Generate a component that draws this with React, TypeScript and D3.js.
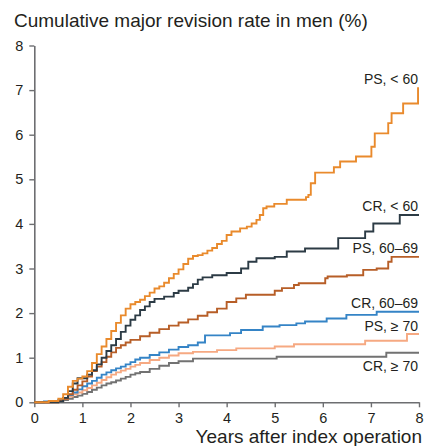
import { useEffect, useRef } from 'react'
import * as d3 from 'd3'

type Pt = [number, number]

// Kaplan–Meier style step curves, [years, cumulative %]
const psUnder60: Pt[] = [
  [0, 0], [0.3, 0.03], [0.5, 0.08], [0.6, 0.18], [0.7, 0.35], [0.8, 0.48], [0.9, 0.53], [1.0, 0.58],
  [1.1, 0.7], [1.2, 0.88], [1.3, 1.08], [1.4, 1.25], [1.5, 1.42], [1.6, 1.6], [1.7, 1.78], [1.8, 1.95],
  [1.9, 2.1], [2.0, 2.2], [2.1, 2.25], [2.2, 2.3], [2.3, 2.38], [2.4, 2.46], [2.5, 2.55], [2.6, 2.6],
  [2.7, 2.68], [2.8, 2.78], [2.9, 2.88], [3.0, 2.98], [3.1, 3.1], [3.2, 3.22], [3.3, 3.28], [3.4, 3.3],
  [3.5, 3.34], [3.6, 3.4], [3.7, 3.46], [3.8, 3.55], [3.9, 3.62], [4.0, 3.75], [4.1, 3.83], [4.28, 3.9],
  [4.42, 3.94], [4.52, 4.01], [4.62, 4.09], [4.69, 4.2], [4.76, 4.35], [4.83, 4.39], [4.99, 4.45],
  [5.25, 4.54], [5.65, 4.6], [5.7, 4.65], [5.75, 4.91], [5.84, 5.15], [6.23, 5.27], [6.36, 5.4],
  [6.69, 5.51], [7.01, 5.73], [7.08, 6.03], [7.36, 6.26], [7.43, 6.48], [7.67, 6.7], [7.98, 7.04], [8, 7.04],
]

const crUnder60: Pt[] = [
  [0, 0], [0.5, 0.02], [0.6, 0.1], [0.7, 0.25], [0.8, 0.42], [0.9, 0.54], [1.1, 0.62], [1.2, 0.72],
  [1.3, 0.85], [1.4, 1.0], [1.5, 1.15], [1.6, 1.28], [1.7, 1.42], [1.8, 1.58], [1.9, 1.72], [2.0, 1.85],
  [2.1, 1.95], [2.2, 2.07], [2.3, 2.15], [2.4, 2.25], [2.5, 2.32], [2.7, 2.37], [2.9, 2.45], [3.0, 2.5],
  [3.2, 2.57], [3.3, 2.65], [3.4, 2.75], [3.5, 2.8], [3.7, 2.85], [4.0, 2.9], [4.3, 3.0], [4.45, 3.15],
  [4.62, 3.23], [5.0, 3.26], [5.25, 3.38], [5.63, 3.45], [6.32, 3.68], [6.88, 3.83], [7.05, 4.01],
  [7.6, 4.2], [8, 4.2],
]

const ps60to69: Pt[] = [
  [0, 0], [0.5, 0.03], [0.6, 0.08], [0.7, 0.18], [0.8, 0.28], [0.9, 0.38], [1.0, 0.47], [1.1, 0.58],
  [1.2, 0.7], [1.3, 0.8], [1.4, 0.9], [1.5, 1.02], [1.6, 1.12], [1.7, 1.22], [1.8, 1.28], [1.9, 1.34],
  [2.0, 1.4], [2.2, 1.48], [2.4, 1.56], [2.6, 1.64], [2.8, 1.72], [3.0, 1.79], [3.2, 1.86], [3.4, 1.94],
  [3.6, 2.02], [3.8, 2.1], [4.0, 2.25], [4.2, 2.33], [4.4, 2.41], [5.0, 2.5], [5.15, 2.56], [5.4, 2.63],
  [5.5, 2.67], [6.05, 2.78], [6.1, 2.82], [6.5, 2.85], [6.84, 2.97], [7.12, 3.0], [7.36, 3.15],
  [7.43, 3.26], [8, 3.26],
]

const cr60to69: Pt[] = [
  [0, 0], [0.2, 0.02], [0.5, 0.05], [0.6, 0.1], [0.7, 0.16], [0.8, 0.22], [0.9, 0.29], [1.0, 0.36],
  [1.1, 0.42], [1.2, 0.48], [1.3, 0.55], [1.4, 0.62], [1.5, 0.67], [1.6, 0.72], [1.7, 0.76], [1.8, 0.8],
  [1.9, 0.85], [2.0, 0.9], [2.1, 0.96], [2.2, 1.0], [2.4, 1.06], [2.6, 1.12], [2.8, 1.18], [3.0, 1.24],
  [3.2, 1.28], [3.4, 1.34], [3.55, 1.5], [4.07, 1.55], [4.3, 1.62], [4.75, 1.7], [5.1, 1.73],
  [5.45, 1.77], [5.63, 1.81], [6.08, 1.88], [6.49, 1.96], [7.12, 2.03], [8, 2.03],
]

const ps70plus: Pt[] = [
  [0, 0], [0.3, 0.02], [0.5, 0.04], [0.6, 0.08], [0.7, 0.13], [0.8, 0.18], [0.9, 0.22], [1.0, 0.27],
  [1.1, 0.32], [1.2, 0.38], [1.3, 0.44], [1.4, 0.5], [1.5, 0.56], [1.6, 0.62], [1.7, 0.67], [1.8, 0.71],
  [1.9, 0.75], [2.0, 0.8], [2.1, 0.84], [2.2, 0.88], [2.4, 0.95], [2.6, 1.0], [2.8, 1.05], [3.0, 1.1],
  [3.3, 1.13], [3.8, 1.17], [4.2, 1.21], [5.0, 1.25], [5.4, 1.3], [6.88, 1.38], [7.75, 1.53], [8, 1.53],
]

const cr70plus: Pt[] = [
  [0, 0], [0.3, 0.01], [0.5, 0.03], [0.6, 0.05], [0.7, 0.08], [0.8, 0.12], [0.9, 0.15], [1.0, 0.19],
  [1.1, 0.23], [1.2, 0.28], [1.3, 0.33], [1.4, 0.38], [1.5, 0.42], [1.6, 0.45], [1.7, 0.49], [1.8, 0.53],
  [1.9, 0.57], [2.0, 0.62], [2.1, 0.65], [2.2, 0.68], [2.4, 0.75], [2.6, 0.82], [2.8, 0.88], [3.0, 0.92],
  [3.3, 0.98], [5.04, 1.02], [7.32, 1.11], [8, 1.11],
]

const seriesLabels = ['PS, < 60', 'CR, < 60', 'PS, 60–69', 'CR, 60–69', 'PS, ≥ 70', 'CR, ≥ 70']
const seriesColors = ['#E98A2C', '#2C3B45', '#B75E27', '#3584C6', '#F6A982', '#727272']
// label baseline, in data units
const labelY = [7.14, 4.29, 3.35, 2.11, 1.6, 0.7]

const xTicks = [0, 1, 2, 3, 4, 5, 6, 7, 8]
const yTicks = [0, 1, 2, 3, 4, 5, 6, 7, 8]

const W = 425
const H = 446
const margin = { l: 34.3, r: 6, t: 45.5, b: 44 }
const FONT = '"Liberation Sans", Arial, Helvetica, sans-serif'

export default function App() {
  const ref = useRef<SVGSVGElement>(null)

  useEffect(() => {
    const svg = d3.select(ref.current!)
    svg.selectAll('*').remove()

    const x = d3.scaleLinear().domain([0, 8]).range([margin.l, 419])
    const y = d3.scaleLinear().domain([0, 8]).range([402.3, margin.t])

    const data = [psUnder60, crUnder60, ps60to69, cr60to69, ps70plus, cr70plus]

    // title
    svg.append('text')
      .attr('x', 14)
      .attr('y', 27)
      .attr('font-family', FONT)
      .attr('font-size', 19)
      .attr('fill', '#231f20')
      .text('Cumulative major revision rate in men (%)')

    // axes
    const yAxis = svg.append('g')
      .attr('transform', `translate(${margin.l},0)`)
      .call(d3.axisLeft(y).tickValues(yTicks).tickFormat(d3.format('d')).tickSize(5).tickPadding(6).tickSizeOuter(0))
    const xAxis = svg.append('g')
      .attr('transform', `translate(0,${y(0)})`)
      .call(d3.axisBottom(x).tickValues(xTicks).tickFormat(d3.format('d')).tickSize(5).tickPadding(5).tickSizeOuter(0))

    for (const ax of [yAxis, xAxis]) {
      ax.select('.domain').attr('stroke', '#6d6e71').attr('stroke-width', 1.6)
      ax.selectAll('.tick line').attr('stroke', '#6d6e71').attr('stroke-width', 1.4)
      ax.selectAll('.tick text')
        .attr('font-family', FONT)
        .attr('font-size', 14.5)
        .attr('fill', '#231f20')
    }

    // curves, drawn back to front
    const line = d3.line<Pt>()
      .x(d => x(d[0]))
      .y(d => y(d[1]))
      .curve(d3.curveStepAfter)

    const order = [5, 4, 3, 2, 1, 0]
    for (const i of order) {
      svg.append('path')
        .datum(data[i])
        .attr('d', line)
        .attr('fill', 'none')
        .attr('stroke', seriesColors[i])
        .attr('stroke-width', 1.9)
        .attr('stroke-linejoin', 'miter')
    }

    // curve labels
    seriesLabels.forEach((lab, i) => {
      svg.append('text')
        .attr('x', 418)
        .attr('y', y(labelY[i]))
        .attr('text-anchor', 'end')
        .attr('font-family', FONT)
        .attr('font-size', 14)
        .attr('fill', '#231f20')
        .text(lab)
    })

    // x axis title
    svg.append('text')
      .attr('x', 422)
      .attr('y', 443)
      .attr('text-anchor', 'end')
      .attr('font-family', FONT)
      .attr('font-size', 19)
      .attr('fill', '#231f20')
      .text('Years after index operation')
  }, [])

  return (
    <svg
      ref={ref}
      width={W}
      height={H}
      style={{ position: 'absolute', left: 0, top: 0, background: '#fff' }}
    />
  )
}
